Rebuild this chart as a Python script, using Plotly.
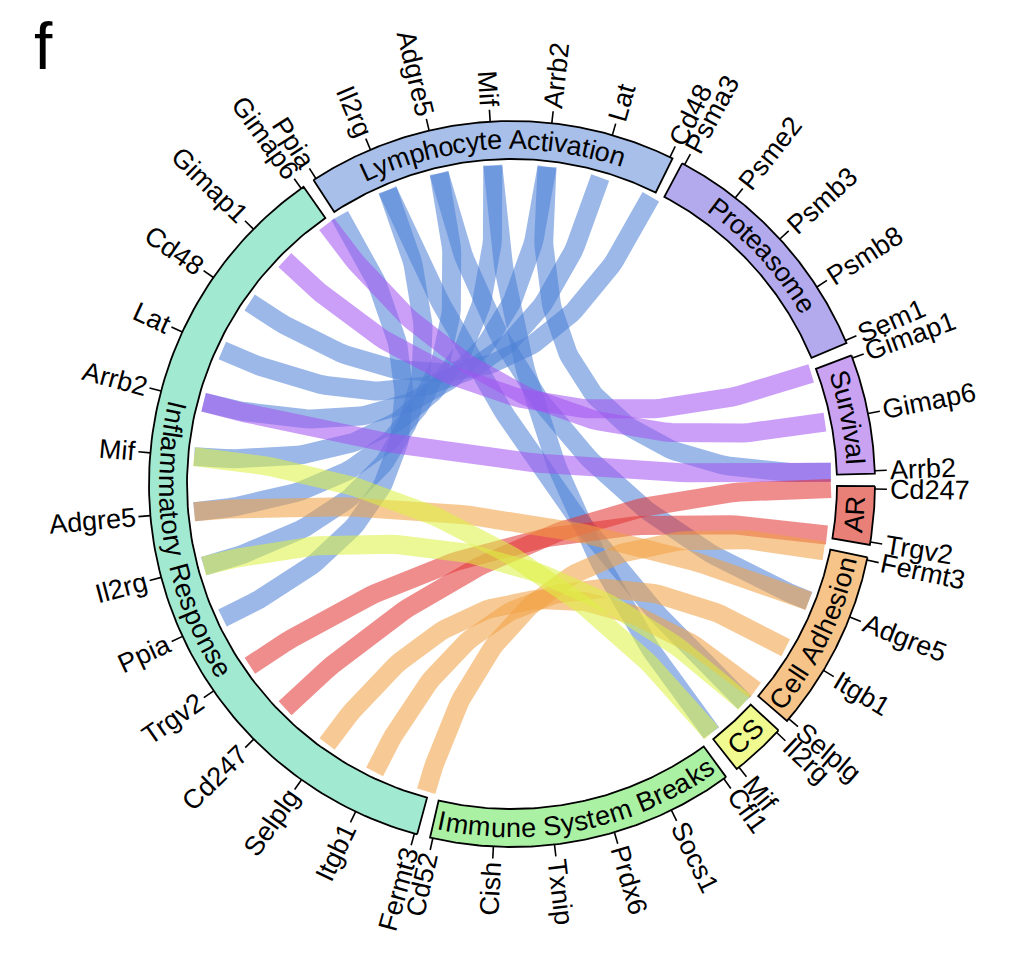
import math
import numpy as np
import plotly.graph_objects as go

# ---------------- data ----------------
SECTORS = ["Lymphocyte Activation", "Proteasome", "Survival", "AR",
           "Cell Adhesion", "CS", "Immune System Breaks", "Inflammatory Response"]

LA_GENES = ["Ppia", "Il2rg", "Adgre5", "Mif", "Arrb2", "Lat", "Cd48"]
PROT_GENES = ["Psma3", "Psme2", "Psmb3", "Psmb8", "Sem1"]
SURV_GENES = ["Gimap1", "Gimap6", "Arrb2"]
AR_GENES = ["Cd247", "Trgv2"]
CA_GENES = ["Fermt3", "Adgre5", "Itgb1", "Selplg"]
CS_GENES = ["Il2rg", "Mif"]
ISB_GENES = ["Cfl1", "Socs1", "Prdx6", "Txnip", "Cish", "Cd52"]
IR_GENES = ["Fermt3", "Itgb1", "Selplg", "Cd247", "Trgv2", "Ppia", "Il2rg",
            "Adgre5", "Mif", "Arrb2", "Lat", "Cd48", "Gimap1", "Gimap6"]

SECTOR_GENES = [LA_GENES, PROT_GENES, SURV_GENES, AR_GENES,
                CA_GENES, CS_GENES, ISB_GENES, IR_GENES]

# ---------------- layout / style ----------------
# bearing (deg, clockwise from top) of first and last gene tick of each sector
SPAN = {
    "Lymphocyte Activation": (-32.7, 25.8),
    "Proteasome": (28.4, 66.7),
    "Survival": (69.7, 87.9),
    "AR": (90.8, 99.2),
    "Cell Adhesion": (102.1, 130.3),
    "CS": (133.2, 141.3),
    "Immune System Breaks": (144.3, 192.6),
    "Inflammatory Response": (195.6, 324.5),
}
SECTOR_FILL = {
    "Lymphocyte Activation": "#a7bfe9",
    "Proteasome": "#b3aaee",
    "Survival": "#c9a2f2",
    "AR": "#e98078",
    "Cell Adhesion": "#f6c489",
    "CS": "#f1fa8e",
    "Immune System Breaks": "#abf1a3",
    "Inflammatory Response": "#a2e9d2",
}
CHORD_RGB = {
    "Lymphocyte Activation": (76, 128, 214),
    "Proteasome": (140, 120, 230),
    "Survival": (162, 84, 240),
    "AR": (226, 52, 52),
    "Cell Adhesion": (240, 160, 66),
    "CS": (222, 240, 66),
    "Immune System Breaks": (110, 220, 100),
}
CHORD_ALPHA = 0.56

W, H = 1022, 968
CX, CY = 512.0, 484.0
R_OUT, R_IN, R_CHORD = 363.0, 325.0, 319.0
PAD = 0.45
TICK_LEN, TICK_GAP = 12.0, 3.0
FS_TICK, FS_SECTOR = 27, 27
CHORD_W = 19
FONT = "Liberation Sans, Arial, Helvetica, sans-serif"

ARIAL = {
    'A': 667, 'B': 667, 'C': 722, 'D': 722, 'E': 667, 'F': 611, 'G': 778, 'H': 722,
    'I': 278, 'J': 500, 'K': 667, 'L': 556, 'M': 833, 'N': 722, 'O': 778, 'P': 667,
    'Q': 778, 'R': 722, 'S': 667, 'T': 611, 'U': 722, 'V': 667, 'W': 944, 'X': 667,
    'Y': 667, 'Z': 611,
    'a': 556, 'b': 556, 'c': 500, 'd': 556, 'e': 556, 'f': 278, 'g': 556, 'h': 556,
    'i': 222, 'j': 222, 'k': 500, 'l': 222, 'm': 833, 'n': 556, 'o': 556, 'p': 556,
    'q': 556, 'r': 333, 's': 500, 't': 278, 'u': 556, 'v': 500, 'w': 722, 'x': 500,
    'y': 500, 'z': 500, ' ': 278,
}


def cw(c):
    return ARIAL.get(c, 556)


def tw(s, fs):
    return sum(cw(c) for c in s) * fs / 1000.0


def pt(b, r):
    a = math.radians(b)
    return CX + r * math.sin(a), CY - r * math.cos(a)


def norm_angle(a):
    while a > 180:
        a -= 360
    while a <= -180:
        a += 360
    return a


def gene_bearings(sector):
    genes = SECTOR_GENES[SECTORS.index(sector)]
    b0, b1 = SPAN[sector]
    n = len(genes)
    if n == 1:
        return [(b0 + b1) / 2]
    return [b0 + (b1 - b0) * i / (n - 1) for i in range(n)]


BEARING = {s: dict(zip(SECTOR_GENES[i], gene_bearings(s))) for i, s in enumerate(SECTORS)}

# links: every pair of sectors sharing a gene; coloured by the earlier sector
links = []
for i, s1 in enumerate(SECTORS):
    for s2 in SECTORS[i + 1:]:
        for gene in SECTOR_GENES[i]:
            if gene in BEARING[s2]:
                links.append((s1, s2, gene))

fig = go.Figure()
annotations = []

# ---------------- chords ----------------
t = np.linspace(0, 1, 90)
for s1, s2, gene in links:
    r, g, b = CHORD_RGB[s1]
    col = f"rgba({r},{g},{b},{CHORD_ALPHA})"
    x1, y1 = pt(BEARING[s1][gene], R_CHORD)
    x2, y2 = pt(BEARING[s2][gene], R_CHORD)
    xs = (1 - t) ** 2 * x1 + 2 * t * (1 - t) * CX + t ** 2 * x2
    ys = (1 - t) ** 2 * y1 + 2 * t * (1 - t) * CY + t ** 2 * y2
    fig.add_trace(go.Scatter(x=xs, y=ys, mode="lines",
                             line=dict(color=col, width=CHORD_W),
                             hoverinfo="skip", showlegend=False))

# ---------------- ring sectors ----------------
for sec in SECTORS:
    b0, b1 = SPAN[sec]
    a0, a1 = b0 - PAD, b1 + PAD
    arc = np.linspace(a0, a1, 120)
    xo = [pt(a, R_OUT)[0] for a in arc]
    yo = [pt(a, R_OUT)[1] for a in arc]
    xi = [pt(a, R_IN)[0] for a in arc[::-1]]
    yi = [pt(a, R_IN)[1] for a in arc[::-1]]
    xs = xo + xi + [xo[0]]
    ys = yo + yi + [yo[0]]
    fig.add_trace(go.Scatter(x=xs, y=ys, mode="lines", fill="toself",
                             fillcolor=SECTOR_FILL[sec],
                             line=dict(color="black", width=1.8),
                             hoverinfo="skip", showlegend=False))

    # curved sector label
    bmid = (b0 + b1) / 2
    flip = 90 < (bmid % 360) < 270
    rt = (R_OUT + R_IN) / 2
    total = tw(sec, FS_SECTOR)
    span_deg = math.degrees(total / rt)
    sign = -1 if flip else 1
    start = bmid - sign * span_deg / 2
    pos = 0.0
    for ch in sec:
        w = cw(ch) * FS_SECTOR / 1000.0
        ang = start + sign * math.degrees((pos + w / 2) / rt)
        pos += w
        if ch == " ":
            continue
        x, y = pt(ang, rt)
        rot = ang - 180 if flip else ang
        annotations.append(dict(x=x, y=y, xref="x", yref="y", text=ch,
                                showarrow=False, xanchor="center", yanchor="middle",
                                textangle=norm_angle(rot),
                                font=dict(size=FS_SECTOR, color="black", family=FONT)))

# ---------------- ticks and gene labels ----------------
tx, ty = [], []
for sec in SECTORS:
    for gene, bb in BEARING[sec].items():
        xa, ya = pt(bb, R_OUT)
        xb, yb = pt(bb, R_OUT + TICK_LEN)
        tx += [xa, xb, None]
        ty += [ya, yb, None]
        w = tw(gene, FS_TICK)
        x, y = pt(bb, R_OUT + TICK_LEN + TICK_GAP + w / 2)
        bm = bb % 360
        rot = bm - 90 if bm <= 180 else bm - 270
        annotations.append(dict(x=x, y=y, xref="x", yref="y", text=gene,
                                showarrow=False, xanchor="center", yanchor="middle",
                                textangle=norm_angle(rot),
                                font=dict(size=FS_TICK, color="black", family=FONT)))
fig.add_trace(go.Scatter(x=tx, y=ty, mode="lines",
                         line=dict(color="black", width=1.6),
                         hoverinfo="skip", showlegend=False))

# panel letter
annotations.append(dict(x=43, y=46, xref="x", yref="y", text="f", showarrow=False,
                        xanchor="center", yanchor="middle",
                        font=dict(size=66, color="black", family=FONT)))

fig.update_layout(
    width=W, height=H, margin=dict(l=0, r=0, t=0, b=0),
    paper_bgcolor="white", plot_bgcolor="white",
    xaxis=dict(range=[0, W], visible=False, fixedrange=True),
    yaxis=dict(range=[H, 0], visible=False, fixedrange=True),
    annotations=annotations, showlegend=False,
    font=dict(family=FONT, color="black"),
)

fig.write_html("out.html", config={"displayModeBar": False},
               post_script="document.body.style.margin='0px';")
